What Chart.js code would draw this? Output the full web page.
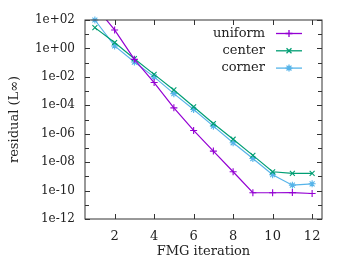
<!DOCTYPE html>
<html>
<head>
<meta charset="utf-8">
<script src="https://cdn.jsdelivr.net/npm/chart.js@4/dist/chart.umd.min.js"></script>
<style>
  html, body { margin: 0; padding: 0; background: #fff; }
  #wrap { width: 354px; height: 266px; }
</style>
</head>
<body>
<div id="wrap"><canvas id="residual-chart"></canvas></div>
<script>
const iterations = [1, 2, 3, 4, 5, 6, 7, 8, 9, 10, 11, 12];
const uniform = [1e3, 20, 0.17, 4e-3, 6.6e-5, 1.7e-6, 6e-8, 2.1e-9, 7e-11, 7e-11, 7.2e-11, 6.2e-11];
const center = [29, 2.6, 0.19, 0.015, 1.2e-3, 7.9e-5, 5.2e-6, 4.1e-7, 3.0e-8, 2.1e-9, 1.6e-9, 1.6e-9];
const corner = [100, 1.5, 0.11, 0.01, 6.6e-4, 5.1e-5, 3.4e-6, 2.3e-7, 1.8e-8, 1.3e-9, 2.4e-10, 3.0e-10];

const xTicks = [2, 4, 6, 8, 10, 12];
const yTicks = [1e-12, 1e-11, 1e-10, 1e-9, 1e-8, 1e-7, 1e-6, 1e-5, 1e-4, 1e-3, 1e-2, 1e-1, 1e0, 1e1, 1e2];
const yTickLabels = ["1e-12", "", "1e-10", "", "1e-08", "", "1e-06", "", "1e-04", "", "1e-02", "", "1e+00", "", "1e+02"];

Chart.defaults.font.family = "'DejaVu Serif', serif";
Chart.defaults.font.size = 12;
Chart.defaults.color = "#222";

const toPoints = (ys) => iterations.map((x, i) => ({ x: x, y: ys[i] }));

// frame with inward ticks on all four sides, plus the legend inside the plot
const frameTicks = {
    id: "frameTicks",
    afterDatasetsDraw(chart) {
        const { ctx, chartArea: a, scales: { x, y } } = chart;
        ctx.save();
        ctx.strokeStyle = "#333";
        ctx.lineWidth = 1;
        ctx.strokeRect(a.left, a.top, a.right - a.left, a.bottom - a.top);
        ctx.beginPath();
        x.ticks.forEach((t) => {
            const px = Math.round(x.getPixelForValue(t.value)) + 0.5;
            ctx.moveTo(px, a.bottom); ctx.lineTo(px, a.bottom - 5);
            ctx.moveTo(px, a.top); ctx.lineTo(px, a.top + 5);
        });
        y.ticks.forEach((t) => {
            const py = Math.round(y.getPixelForValue(t.value)) + 0.5;
            const len = t.label ? 5 : 4;
            ctx.moveTo(a.left, py); ctx.lineTo(a.left + len, py);
            ctx.moveTo(a.right, py); ctx.lineTo(a.right - len, py);
        });
        ctx.stroke();

        // legend
        ctx.font = "13px 'DejaVu Serif', serif";
        ctx.textAlign = "right";
        ctx.textBaseline = "middle";
        chart.data.datasets.forEach((ds, i) => {
            const ly = a.top + 13.5 + i * 17.3;
            ctx.fillStyle = "#222";
            ctx.fillText(ds.label, a.right - 57, ly);
            ctx.strokeStyle = ds.borderColor;
            ctx.lineWidth = 1.3;
            ctx.beginPath();
            ctx.moveTo(a.right - 46, ly); ctx.lineTo(a.right - 20, ly);
            ctx.stroke();
            Chart.helpers.drawPoint(ctx, {
                pointStyle: ds.pointStyle, radius: ds.pointRadius, rotation: 0, borderWidth: 1.1
            }, a.right - 33, ly);
        });
        ctx.restore();
    }
};

const series = [
    { label: "uniform", data: uniform, color: "#9400d3", style: "cross", clip: 0 },
    { label: "center", data: center, color: "#009e73", style: "crossRot", clip: 5 },
    { label: "corner", data: corner, color: "#56b4e9", style: "star", clip: 5 }
];

new Chart(document.getElementById("residual-chart"), {
    type: "line",
    data: {
        datasets: series.map((s) => ({
            label: s.label,
            data: toPoints(s.data),
            borderColor: s.color,
            backgroundColor: s.color,
            pointBorderColor: s.color,
            pointBackgroundColor: s.color,
            borderWidth: 1.2,
            pointStyle: s.style,
            pointRadius: 3.5,
            pointBorderWidth: 1.1,
            tension: 0,
            clip: s.clip
        }))
    },
    options: {
        responsive: true,
        maintainAspectRatio: false,
        animation: false,
        layout: { padding: { top: 20, right: 32, left: 0, bottom: 0 } },
        plugins: { legend: { display: false }, tooltip: { enabled: false } },
        scales: {
            x: {
                type: "linear",
                min: 0.5,
                max: 12.5,
                grid: { display: false, drawTicks: false },
                border: { display: false },
                afterBuildTicks: (scale) => { scale.ticks = xTicks.map((v) => ({ value: v })); },
                afterFit: (scale) => { scale.height = 47; },
                ticks: { autoSkip: false, maxRotation: 0, padding: 10, font: { size: 13 } },
                title: { display: true, text: "FMG iteration", padding: { top: 0, bottom: 7 }, font: { size: 13 } }
            },
            y: {
                type: "logarithmic",
                min: 1e-12,
                max: 1e2,
                grid: { display: false, drawTicks: false },
                border: { display: false },
                afterBuildTicks: (scale) => { scale.ticks = yTicks.map((v) => ({ value: v })); },
                afterFit: (scale) => { scale.width = 85; },
                ticks: {
                    autoSkip: false,
                    padding: 10,
                    font: { size: 12 },
                    callback: (value, index) => yTickLabels[index]
                },
                title: { display: true, text: "residual (L\u221e)", padding: { top: 7, bottom: 0 }, font: { size: 13 } }
            }
        }
    },
    plugins: [frameTicks]
});
</script>
</body>
</html>
